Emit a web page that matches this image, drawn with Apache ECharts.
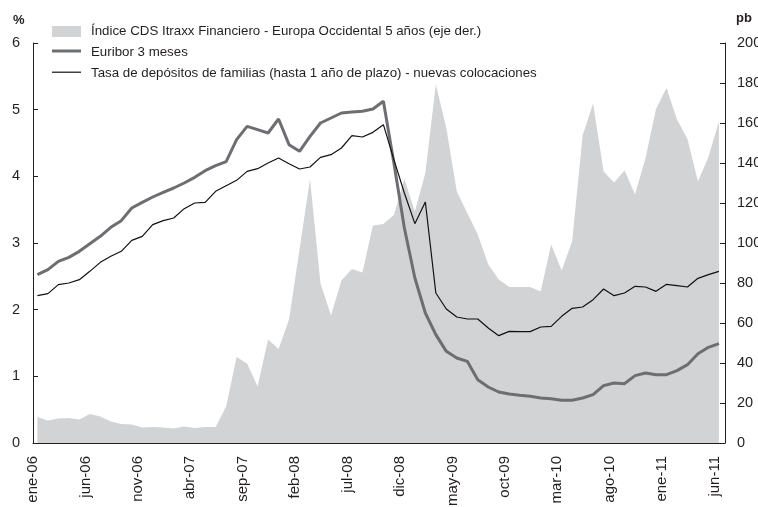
<!DOCTYPE html>
<html>
<head>
<meta charset="utf-8">
<script src="https://cdn.jsdelivr.net/npm/echarts@6/dist/echarts.min.js"></script>
<style>html,body{margin:0;padding:0;background:#fff;}#c{width:758px;height:507px;}</style>
</head>
<body>
<div id="c"></div>
<script>
// Monthly data, ene-06 .. jun-11 (66 months)
var tickLabels = ['ene-06','jun-06','nov-06','abr-07','sep-07','feb-08','jul-08','dic-08','may-09','oct-09','mar-10','ago-10','ene-11','jun-11'];

var cdsNames = 'Índice CDS Itraxx Financiero - Europa Occidental 5 años (eje der.)';
var euriborName = 'Euribor 3 meses';
var depName = 'Tasa de depósitos de familias (hasta 1 año de plazo) - nuevas colocaciones';

// CDS index, basis points (right axis)
var cds = [13.0, 11.3, 12.2, 12.5, 11.7, 14.5, 13.3, 10.8, 9.5, 9.2, 7.8, 8.0, 7.8, 7.2, 8.2, 7.5,
  8.0, 8.0, 18.3, 43, 39.7, 28.3, 51.7, 47, 61.7, 96.7, 132, 79.7, 63.7, 81.3, 87, 85.3, 108.7,
  109.5, 114, 132, 115.8, 135, 179.2, 157.5, 125.8, 115, 104.2, 89.2, 81.7, 78, 78, 78, 75.8,
  99.2, 86.3, 100.8, 153.7, 169.7, 135.8, 130.3, 136.3, 124.2, 142.5, 167, 177.5, 161.7, 152, 130.8, 143, 160.8];

// Euribor 3 meses, % (left axis)
var euribor = [2.525, 2.60, 2.725, 2.785, 2.875, 2.99, 3.10, 3.235, 3.335, 3.525, 3.61, 3.69, 3.76, 3.825, 3.90, 3.985,
  4.085, 4.16, 4.22, 4.55, 4.75, 4.70, 4.65, 4.86, 4.475, 4.375, 4.60, 4.80, 4.875, 4.95, 4.965, 4.975, 5.01,
  5.125, 4.20, 3.225, 2.475, 1.95, 1.625, 1.375, 1.275, 1.225, 0.95, 0.84, 0.765, 0.735, 0.715, 0.70, 0.675,
  0.665, 0.64, 0.64, 0.675, 0.725, 0.86, 0.90, 0.89, 1.01, 1.05, 1.025, 1.025, 1.085, 1.175, 1.34, 1.435, 1.49];

// Tasa de depósitos de familias, % (left axis)
var deposit = [2.21, 2.24, 2.375, 2.40, 2.45, 2.575, 2.71, 2.80, 2.875, 3.04, 3.10, 3.275, 3.335, 3.375, 3.515, 3.60,
  3.61, 3.775, 3.86, 3.94, 4.075, 4.115, 4.20, 4.275, 4.19, 4.11, 4.14, 4.285, 4.325, 4.425, 4.61, 4.59, 4.66,
  4.775, 4.25, 3.75, 3.29, 3.615, 2.25, 2.01, 1.89, 1.86, 1.86, 1.725, 1.61, 1.675, 1.67, 1.67, 1.74,
  1.75, 1.90, 2.02, 2.04, 2.15, 2.31, 2.21, 2.25, 2.35, 2.34, 2.275, 2.38, 2.36, 2.34, 2.47, 2.525, 2.575];

var monthsPerTick = 5;
var midMonth = 0.42; // observations plotted within each month

function toPoints(arr) {
  return arr.map(function (v, i) { return [i + midMonth, v]; });
}

var FONT = 'Liberation Sans, Arial, sans-serif';
var TXT = '#231f20';
var AREA = '#d1d3d4';
var EUR = '#6d6e71';
var DEP = '#111111';

var chart = echarts.init(document.getElementById('c'), null, {renderer: 'canvas'});
chart.setOption({
  animation: false,
  backgroundColor: '#ffffff',
  textStyle: {fontFamily: FONT, color: TXT},
  grid: {left: 33, right: 33, top: 43, bottom: 64, containLabel: false, outerBoundsMode: 'none'},
  legend: {
    orient: 'vertical',
    left: 52,
    top: 25,
    padding: 0,
    itemWidth: 29,
    itemHeight: 11,
    itemGap: 8,
    textStyle: {fontFamily: FONT, fontSize: 13.3, color: TXT, lineHeight: 13, padding: [0, 0, 0, 5]},
    data: [
      {name: cdsNames, icon: 'rect', itemStyle: {color: AREA}},
      {name: euriborName, icon: 'path://M0,0M0,11M0,2.5h29v3h-29z', itemStyle: {color: EUR}},
      {name: depName, icon: 'path://M0,0M0,11M0,3.6h29v1.2h-29z', itemStyle: {color: DEP}}
    ]
  },
  graphic: [
    {type: 'text', left: 13, top: 14, style: {text: '%', font: 'bold 13px ' + FONT, fill: TXT}},
    {type: 'text', left: 736, top: 12, style: {text: 'pb', font: 'bold 13px ' + FONT, fill: TXT}}
  ],
  xAxis: {
    type: 'value',
    min: 0,
    max: 66,
    interval: monthsPerTick,
    splitLine: {show: false},
    axisLine: {show: true, lineStyle: {color: TXT, width: 1}},
    axisTick: {show: true, inside: true, length: 5, lineStyle: {color: TXT}},
    axisLabel: {
      rotate: 90,
      margin: 13,
      fontSize: 15,
      color: TXT,
      fontFamily: FONT,
      showMaxLabel: false,
      formatter: function (v) {
        if (v % monthsPerTick !== 0) return '';
        var k = v / monthsPerTick;
        return k < tickLabels.length ? tickLabels[k] : '';
      }
    }
  },
  yAxis: [
    {
      type: 'value', min: 0, max: 6, interval: 1,
      splitLine: {show: false},
      axisLine: {show: true, lineStyle: {color: TXT, width: 1}},
      axisTick: {show: true, inside: true, length: 5, lineStyle: {color: TXT}},
      axisLabel: {fontSize: 14.5, color: TXT, fontFamily: FONT, margin: 13}
    },
    {
      type: 'value', min: 0, max: 200, interval: 20,
      position: 'right',
      splitLine: {show: false},
      axisLine: {show: true, lineStyle: {color: TXT, width: 1}},
      axisTick: {show: true, inside: true, length: 5, lineStyle: {color: TXT}},
      axisLabel: {fontSize: 14.5, color: TXT, fontFamily: FONT, margin: 12}
    }
  ],
  series: [
    {
      name: cdsNames,
      type: 'line',
      yAxisIndex: 1,
      data: toPoints(cds),
      symbol: 'none',
      itemStyle: {color: AREA},
      lineStyle: {width: 0, color: AREA},
      areaStyle: {color: AREA, opacity: 1},
      z: 1
    },
    {
      name: euriborName,
      type: 'line',
      yAxisIndex: 0,
      data: toPoints(euribor),
      symbol: 'none',
      itemStyle: {color: EUR},
      lineStyle: {width: 3, color: EUR},
      z: 3
    },
    {
      name: depName,
      type: 'line',
      yAxisIndex: 0,
      data: toPoints(deposit),
      symbol: 'none',
      itemStyle: {color: DEP},
      lineStyle: {width: 1.2, color: DEP},
      z: 4
    }
  ]
});
</script>
</body>
</html>
